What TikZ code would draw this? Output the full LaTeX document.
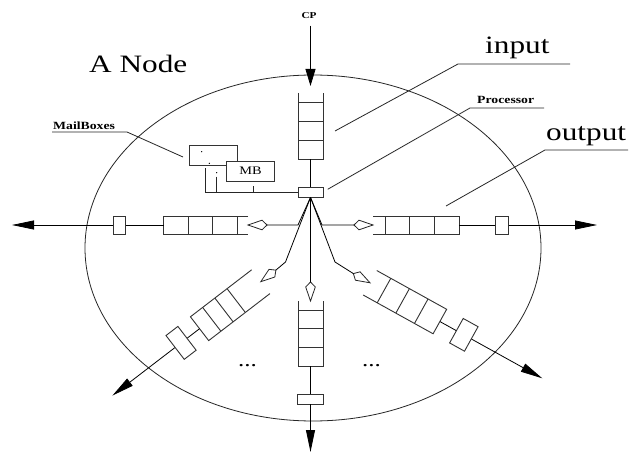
\documentclass[tikz,border=0pt]{standalone}
\usepackage{fontspec}
\setmainfont{Liberation Serif}[FakeStretch=1.25]
\usetikzlibrary{arrows.meta}
% #1 name, #2 open length, #3 cell length, #4 half width
\newcommand\qbody[4]{%
  \draw[qline] (0,#4) -- ({#2+3*#3},#4) -- ({#2+3*#3},-#4) -- (0,-#4);
  \foreach \k in {0,1,2}{\draw[qline] ({#2+\k*#3},#4) -- ({#2+\k*#3},-#4);}
  \coordinate (q#1) at ({#2+3*#3},0);
}
\newcommand\kiteshape[1]{%
  \draw[kite] (0,0) -- (-14,4.8) -- (-19,0) -- (-14,-4.8) -- cycle;
  \coordinate (k#1) at (-19,0);
}
\begin{document}
\begin{tikzpicture}[x=1pt,y=-1pt,
  ln/.style={line width=0.8pt,draw=black!85},
  qline/.style={line width=0.9pt,draw=black!80},
  kite/.style={line width=0.8pt,draw=black!85,fill=white},
  axis/.style={line width=0.8pt,draw=black},
  arr/.style={line width=0.8pt,draw=black,-{Triangle[length=22pt,width=9pt]}},
  sbox/.style={draw=black!80,line width=0.9pt,fill=white,inner sep=0pt},
  lab/.style={inner sep=0pt},
  big/.style={lab,font=\fontsize{25}{25}\selectfont},
  small/.style={lab,font=\fontsize{11}{11}\selectfont\bfseries}]
\useasboundingbox (0,0) rectangle (630,452);
\fill[white] (0,0) rectangle (630,452);

% the node boundary
\draw[ln] (313,248) ellipse [x radius=228pt, y radius=173pt];

% processor
\node[sbox,minimum width=25pt,minimum height=10pt] (P) at (310.5,192) {};

% input queue (top)
\begin{scope}[shift={(310.5,93)},rotate=-90]
  \qbody{T}{9}{19}{12.5}
\end{scope}
\draw[axis] (qT) -- (P);
\node[lab,font=\fontsize{9}{9}\selectfont\bfseries,anchor=base] (cp) at (309,18.3) {CP};
\coordinate (cpTip) at (310.5,86);
\draw[line width=0.8pt,-{Triangle[length=17pt,width=10pt]},shorten <=7pt] (cp.south -| cpTip) -- (cpTip);

% left branch
\coordinate (cL) at (298,225);
\begin{scope}[shift={(248,225)},rotate=180]
  \kiteshape{L}
  \qbody{L}{11}{24.5}{9}
  \node[sbox,minimum width=12.7pt,minimum height=18pt,transform shape] (bL) at (128.5,0) {};
  \coordinate (aL) at (236,0);
\end{scope}
\draw[axis] (P.south) -- (cL) -- (kL);
\draw[axis] (qL) -- (bL);
\draw[arr] (bL) -- (aL);

% right branch
\coordinate (cR) at (322,225);
\begin{scope}[shift={(373,225)},rotate=0]
  \kiteshape{R}
  \qbody{R}{12}{24.7}{9}
  \node[sbox,minimum width=12.5pt,minimum height=18pt,transform shape] (bR) at (129,0) {};
  \coordinate (aR) at (224,0);
\end{scope}
\draw[axis] (P.south) -- (cR) -- (kR);
\draw[axis] (qR) -- (bR);
\draw[arr] (bR) -- (aR);

% down branch
\begin{scope}[shift={(310.5,301)},rotate=-90]
  \kiteshape{D}
  \qbody{D}{9}{18.7}{12.5}
  \node[sbox,minimum width=10pt,minimum height=26pt,transform shape] (bD) at (98,0) {};
  \coordinate (aD) at (151,0);
\end{scope}
\draw[axis] (P.south) -- (kD);
\draw[axis] (qD) -- (bD);
\draw[arr] (bD) -- (aD);

% lower-left branch
\coordinate (cLL) at (285.5,262);
\begin{scope}[shift={(260.8,281.7)},rotate=217.5]
  \kiteshape{LL}
  \qbody{LL}{31}{15.4}{15}
  \node[sbox,minimum width=15pt,minimum height=30pt,transform shape] (bLL) at (100.5,0) {};
  \coordinate (aLL) at (187,0);
\end{scope}
\draw[axis] (P.south) -- (cLL) -- (kLL);
\draw[axis] (qLL) -- (bLL);
\draw[arr] (bLL) -- (aLL);

% lower-right branch
\coordinate (cLR) at (335,262);
\begin{scope}[shift={(370,282.8)},rotate=-29]
  \kiteshape{LR}
  \qbody{LR}{16}{21.3}{14}
  \node[sbox,minimum width=17pt,minimum height=28pt,transform shape] (bLR) at (107.3,0) {};
  \coordinate (aLR) at (197,0);
\end{scope}
\draw[axis] (P.south) -- (cLR) -- (kLR);
\draw[axis] (qLR) -- (bLR);
\draw[arr] (bLR) -- (aLR);

% mailboxes
\node[sbox,minimum width=48.4pt,minimum height=20pt] (mb1) at (213.5,155) {};
\node[sbox,minimum width=47.6pt,minimum height=20pt,font=\fontsize{11.5}{11.5}\selectfont] (mb2) at (250.5,171) {MB};
\fill (201.7,151.7) circle (0.7pt);
\fill (209.3,163.3) circle (0.7pt);
\fill (216.7,172.7) circle (0.7pt);
\coordinate (m1) at (205,168.3);
\coordinate (m2) at (216,176.7);
\coordinate (m3) at (253.3,186);
\draw[ln] (m1) |- (P.west);
\draw[ln] (m2) -- (m2 |- P.west);
\draw[ln] (m3) -- (m3 |- P.west);

% labels and leaders
\node[big,anchor=base west] (tnode) at (89,73) {A Node};

\node[big,anchor=base west] (tin) at (485,54) {input};
\coordinate (inA) at (570,64); \coordinate (inB) at (458,64); \coordinate (inC) at (335,131);
\draw[ln] (inA) -- (inB) -- (inC);

\node[small,anchor=base west] (tproc) at (477,103) {Processor};
\coordinate (prA) at (544,108); \coordinate (prB) at (470,108); \coordinate (prC) at (327.7,189.3);
\draw[ln] (prA) -- (prB) -- (prC);

\node[big,anchor=base west] (tout) at (546,141) {output};
\coordinate (ouA) at (628,150); \coordinate (ouB) at (545,150); \coordinate (ouC) at (446,206);
\draw[ln] (ouA) -- (ouB) -- (ouC);

\node[small,anchor=base west] (tmail) at (53,130) {MailBoxes};
\coordinate (maA) at (52,132); \coordinate (maB) at (127,132); \coordinate (maC) at (183,157);
\draw[ln] (maA) -- (maB) -- (maC);

\node[lab,anchor=base west,font=\fontsize{20}{20}\selectfont] (dots1) at (238,366) {...};
\node[lab,anchor=base west,font=\fontsize{20}{20}\selectfont] (dots2) at (362,366) {...};
\end{tikzpicture}
\end{document}
